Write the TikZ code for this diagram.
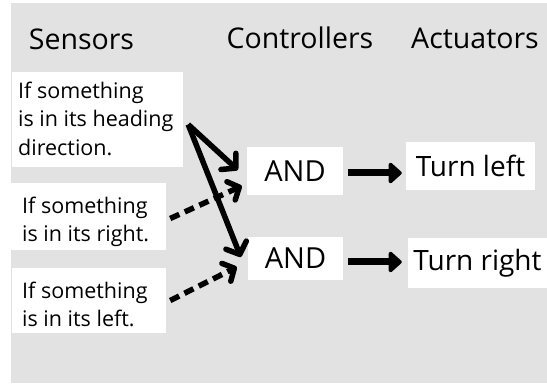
\documentclass[tikz,border=0pt]{standalone}
\usepackage{fontspec}
\setmainfont{Open Sans}
\usetikzlibrary{arrows.meta}
\definecolor{bg}{RGB}{226,226,226}
\begin{document}
\begin{tikzpicture}[x=1pt,y=-1pt,
  box/.style={fill=white, inner sep=0pt, draw=none, rectangle},
  senstext/.style={anchor=north west, inner sep=0pt, align=left, font=\fontsize{21.5}{28.5}\selectfont},
  ctrl/.style={box, font=\fontsize{29}{32}\selectfont},
  act/.style={box, font=\fontsize{28}{32}\selectfont},
  head/.style={anchor=base, inner sep=0pt, font=\fontsize{28.5}{32}\selectfont},
  solidarrow/.style={line width=5.5pt, -{Straight Barb[length=10pt, width=22pt, round]}},
  dasharrow/.style={line width=5.5pt, dash pattern=on 10pt off 6pt, -{Straight Barb[length=9pt, width=20pt, round]}},
  bigarrow/.style={line width=7pt, -{Triangle[length=14pt, width=24pt, round]}}
]
\useasboundingbox (0,0) rectangle (547,385);
\fill[white] (0,0) rectangle (547,385);
\fill[bg] (11,3) rectangle (547,383);

% headers
\node[head] (hs) at (81.5,50) {Sensors};
\node[head] (hc) at (300,49) {Controllers};
\node[head] (ha) at (475,49) {Actuators};

% sensor boxes
\node[box, minimum width=171pt, minimum height=95pt] (s1) at (97.5,119.5) {};
\node[senstext] (t1) at (18,81.7) {If something\\is in its heading\\direction.};
\node[box, minimum width=155pt, minimum height=67pt] (s2) at (88.5,216.5) {};
\node[senstext] (t2) at (22,196.5) {If something\\is in its right.};
\node[box, minimum width=154pt, minimum height=65pt] (s3) at (89,300.5) {};
\node[senstext] (t3) at (22,281.7) {If something\\is in its left.};

% controllers
\node[ctrl, minimum width=96pt, minimum height=48pt] (and1) at (295,171) {AND};
\node[ctrl, minimum width=95pt, minimum height=43pt] (and2) at (295.5,258.5) {AND};

% actuators
\node[act, minimum width=129pt, minimum height=48pt] (tl) at (470.5,166) {Turn left};
\node[act, minimum width=139pt, minimum height=50pt] (tr) at (477.5,263) {Turn right};

% sensor -> controller arrows
\draw[solidarrow] ([shift={(5,5)}]s1.east) -- ([shift={(-9,-1)}]and1.west);
\draw[solidarrow] ([shift={(5,5)}]s1.east) -- ([shift={(-7,-1.5)}]and2.west);
\draw[dasharrow] ([shift={(4,2)}]s2.east) -- ([shift={(-5,15)}]and1.west);
\draw[dasharrow] ([shift={(4,0)}]s3.east) -- ([shift={(-11,8.5)}]and2.west);

% controller -> actuator arrows
\coordinate (h1s) at ([shift={(5,2)}]and1.east);
\coordinate (h1e) at (h1s -| tl.west);
\draw[bigarrow] (h1s) -- ([xshift=-4pt]h1e);
\coordinate (h2s) at ([shift={(5,3.5)}]and2.east);
\coordinate (h2e) at (h2s -| tr.west);
\draw[bigarrow] (h2s) -- ([xshift=-6pt]h2e);
\end{tikzpicture}
\end{document}
